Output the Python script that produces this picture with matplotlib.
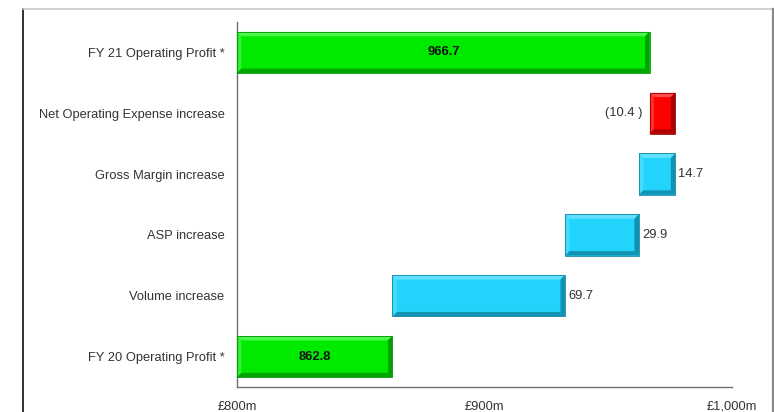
import matplotlib
matplotlib.use("Agg")
import matplotlib.pyplot as plt
from matplotlib.patches import Polygon, Rectangle

plt.rcParams['font.family'] = ['Liberation Sans', 'DejaVu Sans']

# bridge from FY20 to FY21 operating profit, £m
categories = ["FY 20 Operating Profit *", "Volume increase", "ASP increase",
              "Gross Margin increase", "Net Operating Expense increase",
              "FY 21 Operating Profit *"]
changes = [862.8, 69.7, 29.9, 14.7, -10.4, 966.7]
kinds = ["total", "step", "step", "step", "step", "total"]
value_labels = ["862.8", "69.7", "29.9", "14.7", "(10.4 )", "966.7"]
x_ticks = [800, 900, 1000]
x_tick_labels = ["£800m", "£900m", "£1,000m"]

GREEN = ("#00ea00", "#80ff80", "#009400")
CYAN = ("#22d4fb", "#8ae9ff", "#0f86a4")
RED = ("#ff0000", "#ff8080", "#9a0000")

FS = 9.3
TXT = "#333333"

fig = plt.figure(figsize=(7.74, 4.12), dpi=100)
W, H = 774, 412

# outer frame
fig.add_artist(plt.Line2D([23 / W, 23 / W], [0, 1 - 8.5 / H], transform=fig.transFigure,
                          color="#202020", lw=1.3))
fig.add_artist(plt.Line2D([23 / W, 772.5 / W], [1 - 8.5 / H, 1 - 8.5 / H],
                          transform=fig.transFigure, color="#c8c8c8", lw=1.2))
fig.add_artist(plt.Line2D([772.5 / W, 772.5 / W], [0, 1 - 8.5 / H], transform=fig.transFigure,
                          color="#8a8a8a", lw=1.6))

ax = fig.add_axes([237 / W, 25 / H, 495 / W, 365 / H])
xmin, xmax = 800, 1000
ax.set_xlim(xmin, xmax)
ax.set_ylim(-0.5, len(categories) - 0.5)

px_x = (xmax - xmin) / 495.0
px_y = len(categories) / 365.0
bar_h = 0.68
bev = 4.5


def bevel_bar(y, left, right, colors):
    face, light, dark = colors
    b, t = y - bar_h / 2, y + bar_h / 2
    dx, dy = bev * px_x, bev * px_y
    ax.add_patch(Rectangle((left, b), right - left, t - b, facecolor=face,
                           edgecolor="none", zorder=2))
    # top and left highlights, bottom and right shading
    ax.add_patch(Polygon([(left, t), (right, t), (right - dx, t - dy), (left + dx, t - dy)],
                         closed=True, facecolor=light, edgecolor="none", alpha=0.6, zorder=3))
    ax.add_patch(Polygon([(left, b), (left, t), (left + dx, t - dy), (left + dx, b + dy)],
                         closed=True, facecolor=light, edgecolor="none", alpha=0.35, zorder=3))
    ax.add_patch(Polygon([(left, b), (right, b), (right - dx, b + dy), (left + dx, b + dy)],
                         closed=True, facecolor=dark, edgecolor="none", alpha=0.8, zorder=3))
    ax.add_patch(Polygon([(right, b), (right, t), (right - dx, t - dy), (right - dx, b + dy)],
                         closed=True, facecolor=dark, edgecolor="none", alpha=0.85, zorder=3))
    ax.add_patch(Rectangle((left, b), right - left, t - b, facecolor="none",
                           edgecolor=dark, lw=0.6, zorder=4))


running = 0.0
for i, (chg, kind, lab) in enumerate(zip(changes, kinds, value_labels)):
    if kind == "total":
        left, right = xmin, chg
        running = chg
        bevel_bar(i, left, right, GREEN)
        ax.text((left + right) / 2, i, lab, ha="center", va="center", fontsize=FS,
                fontweight="bold", color="#111111", zorder=5)
    else:
        start = running
        running = running + chg
        left, right = min(start, running), max(start, running)
        if chg >= 0:
            bevel_bar(i, left, right, CYAN)
            ax.text(right + 3 * px_x, i, lab, ha="left", va="center", fontsize=FS,
                    color=TXT, zorder=5)
        else:
            bevel_bar(i, left, right, RED)
            ax.text(left - 7 * px_x, i, lab, ha="right", va="center", fontsize=FS,
                    color=TXT, zorder=5)

ax.set_yticks(range(len(categories)))
ax.set_yticklabels(categories, fontsize=FS, color=TXT)
ax.set_xticks(x_ticks)
ax.set_xticklabels(x_tick_labels, fontsize=FS, color=TXT)
ax.tick_params(axis="both", length=0)
ax.tick_params(axis="y", pad=9)
ax.tick_params(axis="x", pad=10)

for s in ["top", "right"]:
    ax.spines[s].set_visible(False)
ax.spines["left"].set_color("#707070")
ax.spines["bottom"].set_color("#707070")
ax.spines["left"].set_linewidth(1.0)
ax.spines["bottom"].set_linewidth(1.0)

fig.savefig("out.png", dpi=100)
